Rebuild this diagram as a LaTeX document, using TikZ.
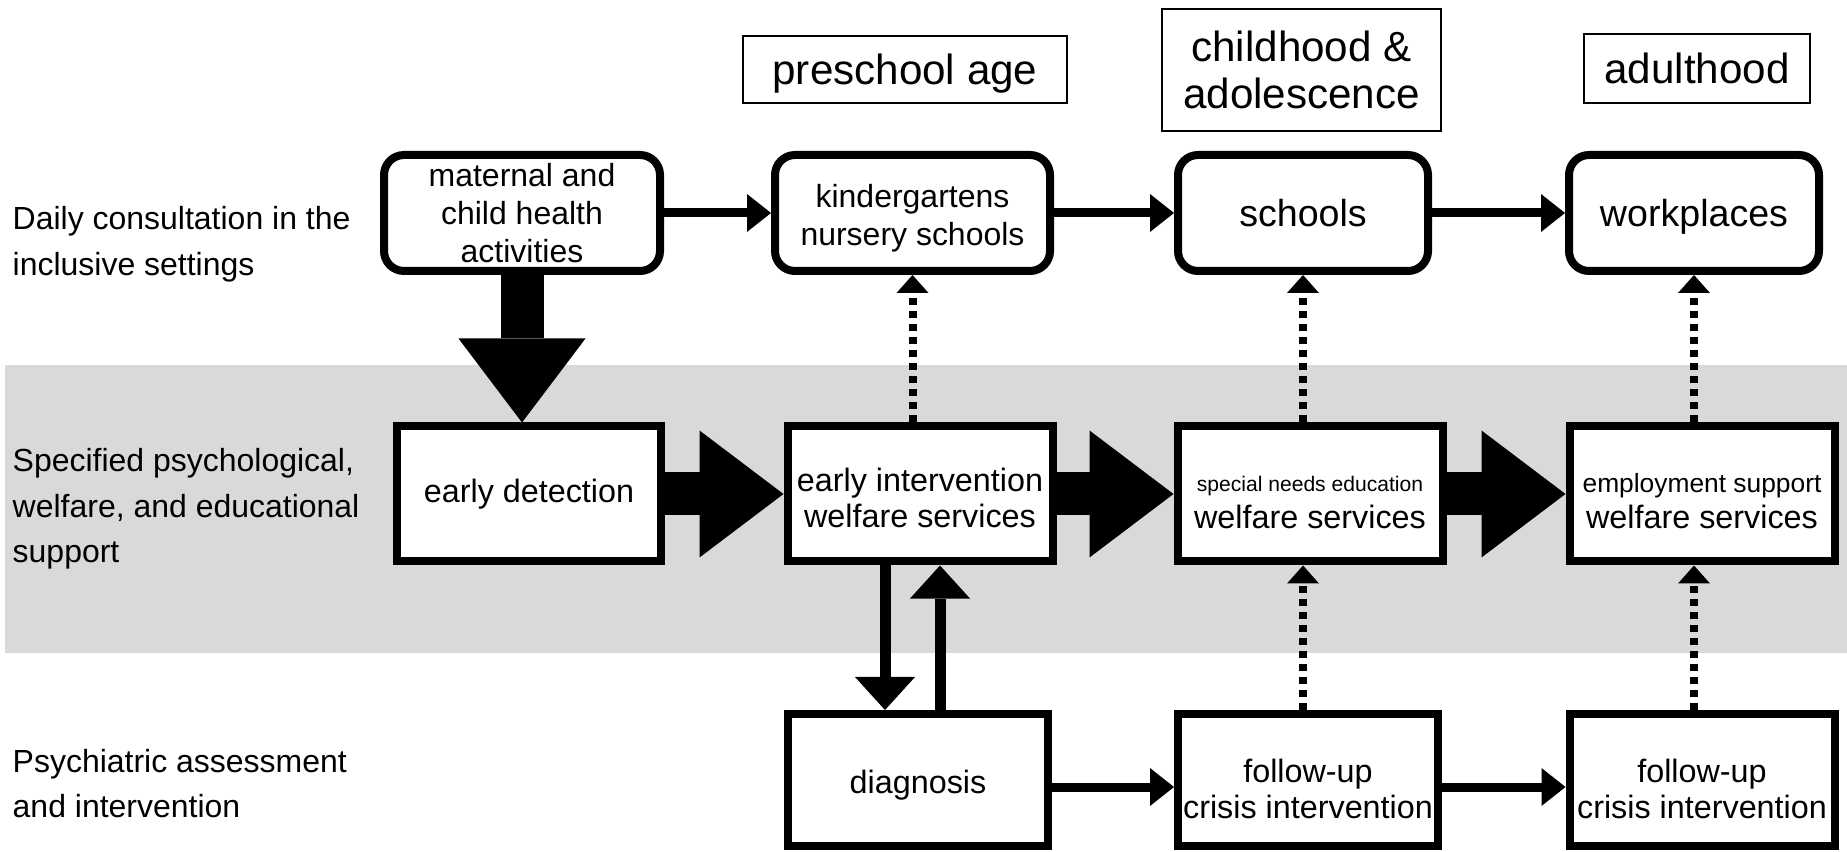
\documentclass[tikz,border=0pt]{standalone}
\usepackage{fontspec}
\setmainfont{Liberation Sans}
\usetikzlibrary{arrows.meta}

\begin{document}
\begin{tikzpicture}[
  stage/.style={draw, line width=0.6pt, inner sep=0pt, align=center, font=\fontsize{12}{13.4}\selectfont},
  setting/.style={draw, line width=0.08cm, rounded corners=0.2cm, inner sep=0pt, minimum height=1.16cm, align=center, font=\fontsize{9.1}{10.7}\selectfont},
  service/.style={draw, fill=white, line width=0.08cm, inner sep=0pt, minimum height=1.35cm, minimum width=2.65cm, align=center, font=\fontsize{9.2}{10.4}\selectfont},
  care/.style={service, minimum height=1.32cm},
  rowlabel/.style={anchor=west, inner sep=0pt, align=left, font=\fontsize{9.1}{13}\selectfont},
  flow/.style={line width=0.09cm, -{Triangle[width=0.38cm,length=0.24cm,line width=0pt]}},
  bigflow/.style={line width=0.43cm, -{Triangle[width=1.27cm,length=0.84cm,line width=0pt]}},
  linkflow/.style={line width=0.11cm, -{Triangle[width=0.6cm,length=0.33cm,line width=0pt]}},
  support/.style={line width=0.08cm, dash pattern=on 0.07cm off 0.06cm, -{Triangle[width=0.32cm,length=0.18cm,line width=0pt]}}
]
  \useasboundingbox (0,0) rectangle (18.47,-8.52);
  % shaded band of the middle row
  \fill[black!15] (0.05,-3.65) rectangle (18.47,-6.53);

  % row labels
  \node[rowlabel] (rowdaily) at (0.12,-2.44) {Daily consultation in the\\inclusive settings};
  \node[rowlabel] (rowspec) at (0.12,-5.09) {Specified psychological,\\welfare, and educational\\support};
  \node[rowlabel] (rowpsy) at (0.12,-7.835) {Psychiatric assessment\\and intervention};

  % life stages
  \node[stage, minimum width=3.24cm, minimum height=0.67cm, text depth=0pt] (pre) at (9.05,-0.695) {preschool age};
  \node[stage, minimum width=2.79cm, minimum height=1.22cm] (child) at (13.015,-0.70) {childhood \&\\adolescence};
  \node[stage, minimum width=2.26cm, minimum height=0.69cm] (adult) at (16.97,-0.685) {adulthood};

  % inclusive settings
  \node[setting, minimum width=2.76cm] (mat) at (5.22,-2.13) {maternal and\\child health\\activities};
  \node[setting, minimum width=2.75cm] (kin) at (9.125,-2.13) {\rule{0pt}{9.6pt}kindergartens\\nursery schools};
  \node[setting, minimum width=2.50cm, font=\fontsize{10.7}{12}\selectfont] (sch) at (13.03,-2.13) {schools};
  \node[setting, minimum width=2.50cm, font=\fontsize{10.7}{12}\selectfont, text depth=0pt] (wrk) at (16.94,-2.13) {workplaces};

  % support services
  \node[service, minimum width=2.64cm] (det) at (5.29,-4.94) {early detection};
  \node[service] (eint) at (9.20,-4.94) {\rule{0pt}{9pt}early intervention\\welfare services};
  \node[service] (sne) at (13.10,-4.94) {{\fontsize{6}{7}\selectfont\rule{0pt}{9.1pt}special needs education}\\welfare services};
  \node[service] (emp) at (17.02,-4.94) {{\fontsize{7.5}{9}\selectfont\rule{0pt}{9.5pt}employment support}\\welfare services};

  % psychiatric care
  \node[care, minimum width=2.60cm] (diag) at (9.18,-7.80) {\rule{0pt}{9.4pt}diagnosis};
  \node[care, minimum width=2.60cm] (fu1) at (13.08,-7.80) {\rule{0pt}{11.7pt}follow-up\\crisis intervention};
  \node[care] (fu2) at (17.02,-7.80) {\rule{0pt}{11.7pt}follow-up\\crisis intervention};

  % connectors
  \draw[flow] (mat) -- (kin);
  \draw[flow] (kin) -- (sch);
  \draw[flow] (sch) -- (wrk);
  \draw[flow] ([yshift=-0.07cm]diag.east) -- ([yshift=-0.07cm]fu1.west);
  \draw[flow] ([yshift=-0.07cm]fu1.east) -- ([yshift=-0.07cm]fu2.west);

  \draw[bigflow] (mat) -- (mat.south |- det.north);
  \draw[bigflow] (det) -- (eint);
  \draw[bigflow] (eint) -- (sne);
  \draw[bigflow] (sne) -- (emp);

  \draw[support] (kin.south |- eint.north) -- (kin.south);
  \draw[support] (sch.south |- sne.north) -- (sch.south);
  \draw[support] (wrk.south |- emp.north) -- (wrk.south);
  \draw[support] (sch.south |- fu1.north) -- (sch.south |- sne.south);
  \draw[support] (wrk.south |- fu2.north) -- (wrk.south |- emp.south);

  \draw[linkflow] ([xshift=-0.33cm]diag.north |- eint.south) -- ([xshift=-0.33cm]diag.north);
  \draw[linkflow] ([xshift=0.22cm]diag.north) -- ([xshift=0.22cm]diag.north |- eint.south);
\end{tikzpicture}
\end{document}
